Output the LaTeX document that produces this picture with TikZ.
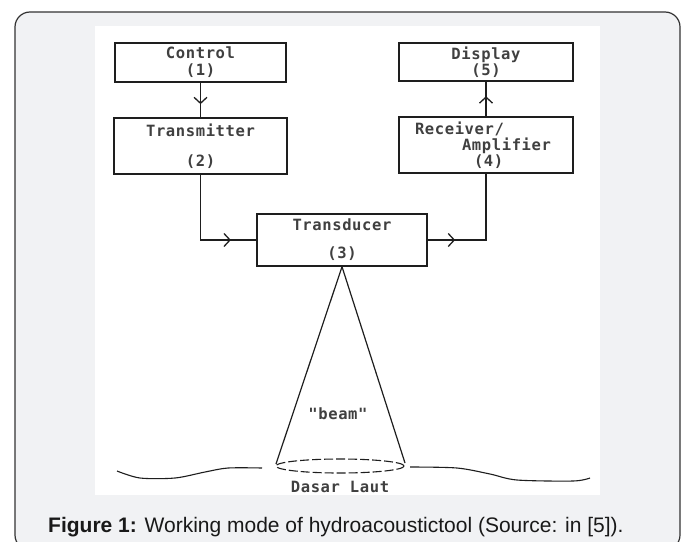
\documentclass[tikz,border=0pt]{standalone}
\usepackage{fontspec}
\setmainfont{Liberation Sans}
\newfontfamily\diagfont[LetterSpace=4]{DejaVu Sans Mono Bold}
\usetikzlibrary{decorations.markings,arrows.meta}
\definecolor{framebg}{HTML}{F1F2F4}
\definecolor{framedraw}{HTML}{333333}
\definecolor{ink}{HTML}{1E1E1E}
\begin{document}
\begin{tikzpicture}[x=1pt,y=-1pt,
  box/.style={draw=ink,line width=1.4pt,inner sep=0pt,align=center,
    font=\diagfont\fontsize{15.5}{16}\selectfont,text=ink!85},
  lbl/.style={inner sep=0pt,font=\diagfont\fontsize{15.5}{16}\selectfont,text=ink!85},
  flow/.style={draw=ink,line width=1.3pt},
  arrowat/.style={postaction={decorate},decoration={markings,
    mark=at position #1 with {\arrow[ink]{Straight Barb[length=6pt,width=13pt,line width=1.3pt]}}}},
]
\useasboundingbox (0,0) rectangle (684,541);
\clip (0,0) rectangle (684,541);
\fill[white] (0,0) rectangle (684,541);
% outer frame
\draw[draw=framedraw,fill=framebg,line width=1.2pt,rounded corners=15pt] (15,12) rectangle (680,550);
% white panel
\fill[white] (95,26) rectangle (600,495);

% boxes
\node[box,minimum width=171pt,minimum height=39pt] (ctrl) at (200.5,62.5) {\raisebox{-2pt}{Control}\\[1pt]\raisebox{-2pt}{(1)}};
\node[box,minimum width=173pt,minimum height=56pt] (tx) at (200.5,146) {Transmitter\\[14pt](2)};
\node[box,minimum width=170pt,minimum height=52pt] (td) at (342,240) {Transducer\\[12pt](3)};
\node[box,minimum width=174pt,minimum height=38pt] (disp) at (486,62) {\raisebox{-2pt}{Display}\\\raisebox{-2pt}{(5)}};
\node[box,minimum width=174pt,minimum height=56pt,align=left,text width=142pt,inner xsep=16pt] (rx) at (486,145)
  {Receiver/\\[0pt]\hspace*{47pt}Amplifier\\[0pt]\hspace*{59pt}(4)};

% connectors
\draw[flow,arrowat=0.62] (ctrl.south) -- (tx.north);
\draw[flow,arrowat=0.58] (rx.north) -- (disp.south);
\draw[flow,arrowat=0.79] (tx.south) |- (td.west);
\draw[flow,arrowat=0.22] (td.east) -| (rx.south);

% beam
\coordinate (bl) at (276,464);
\coordinate (br) at (405,463);
\draw[flow,line width=1.2pt] (td.south) -- (bl);
\draw[flow,line width=1.2pt] (td.south) -- (br);
\draw[draw=ink,line width=1.1pt,dash pattern=on 9pt off 3pt] (340,466) ellipse [x radius=64pt,y radius=7pt];
\node[lbl] (beam) at (338,414) {"beam"};

% sea bed
\draw[draw=ink,line width=1.1pt] plot[smooth] coordinates {(117,471) (140,478) (175,478) (205,472) (228,468) (262,468)};
\draw[draw=ink,line width=1.1pt] plot[smooth] coordinates {(410,467) (457,468) (490,474) (517,480) (573,481) (590,478)};
\node[lbl] (seabed) at (340,487) {Dasar Laut};

% caption
\node[anchor=base west,inner sep=0pt,text=black!90,font=\fontsize{21}{24}\selectfont] (cap) at (48,532)
  {\textbf{Figure 1:} Working mode of hydroacoustictool (Source: in [5]).};
\end{tikzpicture}
\end{document}
